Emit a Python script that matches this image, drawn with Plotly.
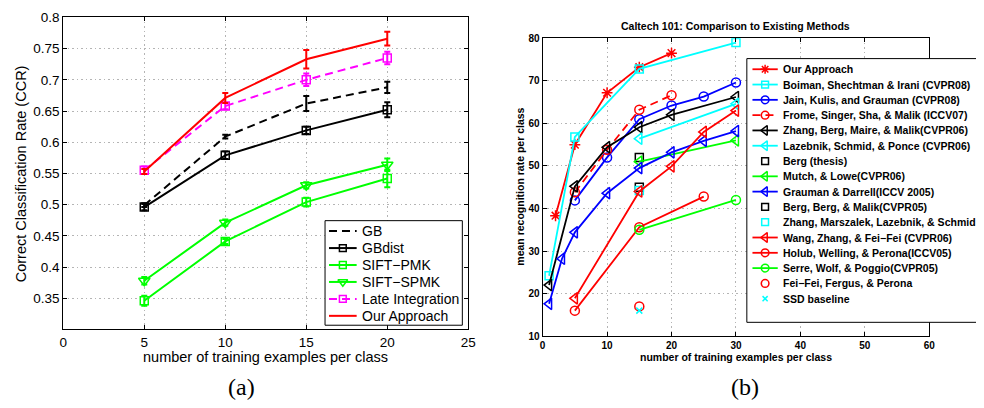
import plotly.graph_objects as go

# ---------------- data: panel (a) ----------------
x_a = [5, 10, 15, 20]
gb = [0.499, 0.609, 0.662, 0.688]
gb_err = [0.003, 0.003, 0.012, 0.009]
gbdist = [0.496, 0.579, 0.619, 0.652]
gbdist_err = [0.005, 0.006, 0.006, 0.012]
sift_pmk = [0.346, 0.441, 0.504, 0.542]
sift_pmk_err = [0.008, 0.004, 0.007, 0.014]
sift_spmk = [0.378, 0.471, 0.531, 0.564]
sift_spmk_err = [0.006, 0.005, 0.005, 0.010]
late_int = [0.555, 0.658, 0.700, 0.735]
late_int_err = [0.006, 0.005, 0.010, 0.010]
ours_a = [0.553, 0.671, 0.733, 0.766]
ours_a_err = [0.004, 0.008, 0.015, 0.011]

names_a = ["GB", "GBdist", "SIFT−PMK", "SIFT−SPMK", "Late Integration", "Our Approach"]
xticks_a = [0, 5, 10, 15, 20, 25]
yticks_a = [0.35, 0.4, 0.45, 0.5, 0.55, 0.6, 0.65, 0.7, 0.75, 0.8]
yticklabels_a = ["0.35", "0.4", "0.45", "0.5", "0.55", "0.6", "0.65", "0.7", "0.75", "0.8"]

# ---------------- data: panel (b) ----------------
ours_b_x = [2, 5, 10, 15, 20]
ours_b_y = [38.3, 55.0, 67.2, 73.2, 76.5]
boiman_x = [1, 5, 15, 30]
boiman_y = [24.2, 56.8, 72.8, 79.0]
jain_x = [5, 10, 15, 20, 25, 30]
jain_y = [41.9, 52.0, 61.0, 64.2, 66.3, 69.6]
frome_x = [5, 10, 15, 20]
frome_y = [43.8, 53.8, 63.2, 66.6]
zbmm_x = [1, 5, 10, 15, 20, 30]
zbmm_y = [22.0, 45.2, 54.4, 59.1, 62.0, 66.2]
lazebnik_x = [15, 30]
lazebnik_y = [56.4, 64.6]
bergthesis_x = [15]
bergthesis_y = [52.0]
mutch_x = [15, 30]
mutch_y = [51.0, 56.0]
grauman_x = [1, 3, 5, 10, 15, 20, 25, 30]
grauman_y = [17.6, 28.2, 34.4, 43.6, 49.5, 53.2, 55.9, 58.2]
bbm_x = [15]
bbm_y = [45.0]
zmls_x = [15]
zmls_y = [44.2]
wang_x = [5, 15, 20, 25, 30]
wang_y = [18.9, 44.0, 49.9, 58.0, 63.0]
holub_x = [5, 15, 25]
holub_y = [16.0, 35.6, 42.8]
serre_x = [15, 30]
serre_y = [35.0, 42.0]
feifei_x = [15]
feifei_y = [17.0]
ssd_x = [15]
ssd_y = [16.0]

names_b = [
    "Our Approach",
    "Boiman, Shechtman & Irani (CVPR08)",
    "Jain, Kulis, and Grauman (CVPR08)",
    "Frome, Singer, Sha, & Malik (ICCV07)",
    "Zhang, Berg, Maire, & Malik(CVPR06)",
    "Lazebnik, Schmid, & Ponce (CVPR06)",
    "Berg (thesis)",
    "Mutch, & Lowe(CVPR06)",
    "Grauman & Darrell(ICCV 2005)",
    "Berg, Berg, & Malik(CVPR05)",
    "Zhang, Marszalek, Lazebnik, & Schmid",
    "Wang, Zhang, & Fei−Fei (CVPR06)",
    "Holub, Welling, & Perona(ICCV05)",
    "Serre, Wolf, & Poggio(CVPR05)",
    "Fei−Fei, Fergus, & Perona",
    "SSD baseline",
]
xticks_b = [0, 10, 20, 30, 40, 50, 60]
yticks_b = [10, 20, 30, 40, 50, 60, 70, 80]

# ---------------- styles ----------------
W, H = 984, 408
SANS = "Liberation Sans, Arial, Helvetica, sans-serif"
SERIF = "Liberation Serif, Times New Roman, serif"
GREEN, MAG, RED, BLUE, CYAN, BLACK = "#00ff00", "#ff00ff", "#ff0000", "#0000ff", "#00ffff", "#000000"
DASH = "8px,5px"

style_a = [
    dict(color=BLACK, dash=DASH, symbol=None, size=0),
    dict(color=BLACK, dash="solid", symbol="square-open", size=8),
    dict(color=GREEN, dash="solid", symbol="square-open", size=8),
    dict(color=GREEN, dash="solid", symbol="triangle-down-open", size=10),
    dict(color=MAG, dash=DASH, symbol="square-open", size=8),
    dict(color=RED, dash="solid", symbol=None, size=0),
]
series_a = [(gb, gb_err), (gbdist, gbdist_err), (sift_pmk, sift_pmk_err),
            (sift_spmk, sift_spmk_err), (late_int, late_int_err), (ours_a, ours_a_err)]

series_b = [(ours_b_x, ours_b_y), (boiman_x, boiman_y), (jain_x, jain_y), (frome_x, frome_y),
            (zbmm_x, zbmm_y), (lazebnik_x, lazebnik_y), (bergthesis_x, bergthesis_y),
            (mutch_x, mutch_y), (grauman_x, grauman_y), (bbm_x, bbm_y), (zmls_x, zmls_y),
            (wang_x, wang_y), (holub_x, holub_y), (serre_x, serre_y), (feifei_x, feifei_y),
            (ssd_x, ssd_y)]
style_b = [
    dict(color=RED, dash="solid", symbol="asterisk-open", size=9, line=True),
    dict(color=CYAN, dash="solid", symbol="square-open", size=8, line=True),
    dict(color=BLUE, dash="solid", symbol="circle-open", size=9, line=True),
    dict(color=RED, dash=DASH, symbol="circle-open", size=9, line=True),
    dict(color=BLACK, dash="solid", symbol="triangle-left-open", size=10, line=True),
    dict(color=CYAN, dash="solid", symbol="triangle-left-open", size=10, line=True),
    dict(color=BLACK, dash="solid", symbol="square-open", size=8, line=False),
    dict(color=GREEN, dash="solid", symbol="triangle-left-open", size=10, line=True),
    dict(color=BLUE, dash="solid", symbol="triangle-left-open", size=10, line=True),
    dict(color=BLACK, dash="solid", symbol="square-open", size=8, line=False),
    dict(color=CYAN, dash="solid", symbol="square-open", size=8, line=False),
    dict(color=RED, dash="solid", symbol="triangle-left-open", size=10, line=True),
    dict(color=RED, dash="solid", symbol="circle-open", size=9, line=True),
    dict(color=GREEN, dash="solid", symbol="circle-open", size=9, line=True),
    dict(color=RED, dash="solid", symbol="circle-open", size=9, line=False),
    dict(color=CYAN, dash="solid", symbol="x-thin-open", size=6, line=False),
]

fig = go.Figure()

# ---------------- panel (a) traces ----------------
for name, (yv, ev), st in zip(names_a, series_a, style_a):
    fig.add_trace(go.Scatter(
        x=x_a, y=yv, name=name, xaxis="x", yaxis="y",
        mode="lines+markers" if st["symbol"] else "lines",
        line=dict(color=st["color"], width=2, dash=st["dash"]),
        marker=dict(symbol=st["symbol"] or "circle", size=st["size"],
                    color=st["color"], line=dict(color=st["color"], width=1.5)),
        error_y=dict(type="data", array=ev, visible=True, color=st["color"],
                     thickness=2, width=3),
        showlegend=False, hoverinfo="skip"))

# ---------------- panel (b) traces ----------------
for name, (xv, yv), st in zip(names_b, series_b, style_b):
    fig.add_trace(go.Scatter(
        x=xv, y=yv, name=name, xaxis="x2", yaxis="y2",
        mode="lines+markers" if st["line"] else "markers",
        line=dict(color=st["color"], width=1.8, dash=st["dash"]),
        marker=dict(symbol=st["symbol"], size=st["size"], color=st["color"],
                    line=dict(color=st["color"], width=1.5)),
        showlegend=False, hoverinfo="skip"))

# ---------------- hand-made legends on a full-figure pixel axis ----------------
shapes = []
annotations = []


def legend_block(names, styles, box, row0, dy, lx0, lx1, tx, font, lw, msize_scale, has_line_key):
    shapes.append(dict(type="rect", xref="x3", yref="y3", x0=box[0], x1=box[1], y0=box[2], y1=box[3],
                       line=dict(color="black", width=1), fillcolor="white", layer="below"))
    for i, (name, st) in enumerate(zip(names, styles)):
        yr = row0 + i * dy
        draw_line = st.get("line", True) if has_line_key else True
        if draw_line:
            fig.add_trace(go.Scatter(x=[lx0, lx1], y=[yr, yr], xaxis="x3", yaxis="y3", mode="lines",
                                     line=dict(color=st["color"], width=lw, dash=st["dash"]),
                                     showlegend=False, hoverinfo="skip"))
        if st["symbol"]:
            fig.add_trace(go.Scatter(x=[(lx0 + lx1) / 2], y=[yr], xaxis="x3", yaxis="y3", mode="markers",
                                     marker=dict(symbol=st["symbol"], size=st["size"] * msize_scale,
                                                 color=st["color"],
                                                 line=dict(color=st["color"], width=1.5)),
                                     showlegend=False, hoverinfo="skip", cliponaxis=False))
        annotations.append(dict(xref="x3", yref="y3", x=tx, y=yr, text=name, showarrow=False,
                                xanchor="left", yanchor="middle", font=font))


legend_block(names_a, style_a, (325, 464, 220.7, 328.7), 231.5, 17.5, 329, 357, 360,
             dict(family=SANS, size=14, color="black"), 2, 0.85, False)
legend_block(names_b, style_b, (752, 1000, 53.3, 325.7), 64.3, 15.8, 757.7, 783.3, 786.7,
             dict(family=SANS, size=10.5, color="black", weight="bold"), 1.8, 0.85, True)

# ---------------- titles / captions ----------------
annotations += [
    dict(xref="x3", yref="y3", x=265, y=361, text="number of training examples per class",
         showarrow=False, font=dict(family=SANS, size=14.5, color="black")),
    dict(xref="x3", yref="y3", x=17, y=172, text="Correct Classification Rate (CCR)", textangle=-90,
         showarrow=False, font=dict(family=SANS, size=14.5, color="black")),
    dict(xref="x3", yref="y3", x=741, y=20, text="Caltech 101: Comparison to Existing Methods",
         showarrow=False, font=dict(family=SANS, size=10.5, color="black", weight="bold")),
    dict(xref="x3", yref="y3", x=741, y=361.5, text="number of training examples per class",
         showarrow=False, font=dict(family=SANS, size=10.5, color="black", weight="bold")),
    dict(xref="x3", yref="y3", x=522, y=186, text="mean recognition rate per class", textangle=-90,
         showarrow=False, font=dict(family=SANS, size=10.5, color="black", weight="bold")),
    dict(xref="x3", yref="y3", x=240, y=393, text="(a)", showarrow=False,
         font=dict(family=SERIF, size=24, color="black")),
    dict(xref="x3", yref="y3", x=750, y=393, text="(b)", showarrow=False,
         font=dict(family=SERIF, size=24, color="black")),
]

axis_common = dict(showline=True, linecolor="black", linewidth=1, mirror="ticks",
                   ticks="inside", ticklen=4, tickcolor="black",
                   showgrid=True, gridcolor="#b4b4b4", griddash="1.5px,3px", gridwidth=1,
                   zeroline=False, fixedrange=True)

fig.update_layout(
    width=W, height=H, autosize=False,
    margin=dict(l=0, r=0, t=0, b=0),
    paper_bgcolor="white", plot_bgcolor="rgba(0,0,0,0)",
    showlegend=False,
    xaxis=dict(domain=[60 / W, 470 / W], range=[0, 25], tickvals=xticks_a, anchor="y",
               tickfont=dict(family=SANS, size=13.5, color="black"), **axis_common),
    yaxis=dict(domain=[1 - 333 / H, 1 - 10.8 / H], range=[0.3, 0.8], tickvals=yticks_a,
               ticktext=yticklabels_a, anchor="x",
               tickfont=dict(family=SANS, size=13.5, color="black"), **axis_common),
    xaxis2=dict(domain=[545.3 / W, 936.7 / W], range=[0, 60], tickvals=xticks_b, anchor="y2",
                tickfont=dict(family=SANS, size=10, color="black", weight="bold"), **axis_common),
    yaxis2=dict(domain=[1 - 340 / H, 1 - 32.3 / H], range=[10, 80], tickvals=yticks_b, anchor="x2",
                tickfont=dict(family=SANS, size=10, color="black", weight="bold"), **axis_common),
    xaxis3=dict(domain=[0, 1], range=[0, W], visible=False, anchor="y3", fixedrange=True),
    yaxis3=dict(domain=[0, 1], range=[H, 0], visible=False, anchor="x3", fixedrange=True),
    shapes=shapes,
    annotations=annotations,
)

fig.write_html("out.html")
